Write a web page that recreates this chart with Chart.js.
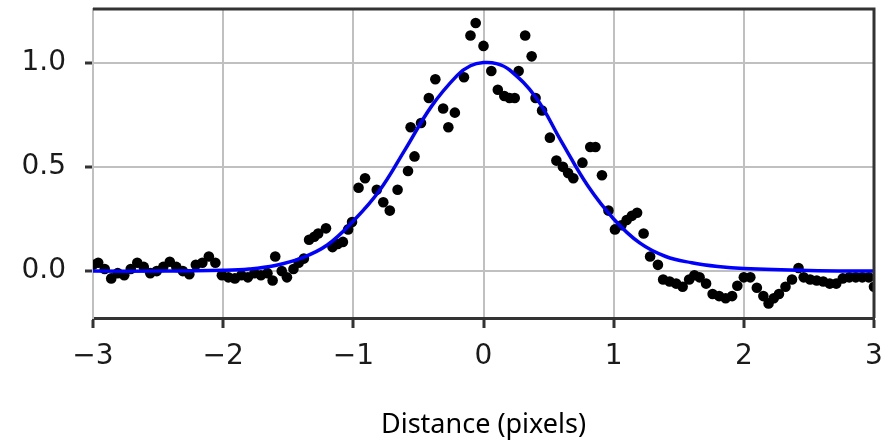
<!DOCTYPE html>
<html>
<head>
<meta charset="utf-8">
<script src="https://cdn.jsdelivr.net/npm/chart.js@4/dist/chart.umd.min.js"></script>
<style>
    html, body { margin: 0; padding: 0; background: #fff; }
    #wrap { width: 891px; height: 448px; position: relative; }
</style>
</head>
<body>
<div id="wrap"><canvas id="chart"></canvas></div>
<script>
// measured profile (black dots)
const distX = [
    -3.00, -2.96, -2.91, -2.86, -2.81, -2.76, -2.71, -2.66, -2.61, -2.56,
    -2.51, -2.46, -2.41, -2.36, -2.31, -2.26, -2.21, -2.16, -2.11, -2.06,
    -2.01, -1.96, -1.91, -1.86, -1.81, -1.76, -1.71, -1.66, -1.62, -1.60,
    -1.55, -1.51, -1.46, -1.42, -1.38, -1.34, -1.30, -1.27, -1.21, -1.16,
    -1.12, -1.08, -1.04, -1.01, -0.96, -0.91, -0.82, -0.77, -0.72, -0.66,
    -0.58, -0.53, -0.56, -0.48, -0.42, -0.37, -0.31, -0.27, -0.22, -0.15,
    -0.10, -0.06, 0.00, 0.06, 0.11, 0.16, 0.20, 0.24, 0.27, 0.32,
    0.37, 0.40, 0.45, 0.51, 0.56, 0.61, 0.65, 0.69, 0.76, 0.82,
    0.86, 0.91, 0.96, 1.01, 1.06, 1.10, 1.14, 1.18, 1.23, 1.28,
    1.34, 1.38, 1.43, 1.48, 1.53, 1.58, 1.62, 1.66, 1.71, 1.76,
    1.81, 1.86, 1.91, 1.95, 2.00, 2.05, 2.10, 2.15, 2.19, 2.23,
    2.27, 2.32, 2.37, 2.42, 2.46, 2.51, 2.56, 2.61, 2.66, 2.71,
    2.76, 2.81, 2.86, 2.91, 2.96, 3.00
];
const distY = [
    0.03, 0.04, 0.01, -0.035, -0.01, -0.02, 0.01, 0.04, 0.02, -0.01,
    0.00, 0.02, 0.045, 0.02, 0.00, -0.015, 0.03, 0.04, 0.07, 0.04,
    -0.02, -0.03, -0.035, -0.02, -0.03, -0.01, -0.02, -0.01, -0.045, 0.07,
    0.00, -0.03, 0.01, 0.04, 0.06, 0.15, 0.165, 0.18, 0.205, 0.115,
    0.13, 0.14, 0.20, 0.235, 0.40, 0.445, 0.39, 0.33, 0.29, 0.39,
    0.48, 0.55, 0.69, 0.71, 0.83, 0.92, 0.78, 0.69, 0.76, 0.93,
    1.13, 1.19, 1.08, 0.96, 0.87, 0.84, 0.83, 0.83, 0.96, 1.13,
    1.03, 0.83, 0.77, 0.64, 0.53, 0.50, 0.47, 0.445, 0.52, 0.595,
    0.595, 0.46, 0.29, 0.20, 0.22, 0.245, 0.265, 0.28, 0.18, 0.07,
    0.03, -0.04, -0.05, -0.06, -0.075, -0.04, -0.02, -0.03, -0.06, -0.11,
    -0.12, -0.13, -0.12, -0.07, -0.03, -0.03, -0.08, -0.12, -0.155, -0.13,
    -0.11, -0.075, -0.04, 0.015, -0.03, -0.04, -0.045, -0.05, -0.06, -0.06,
    -0.035, -0.03, -0.03, -0.03, -0.03, -0.075
];

// fitted curve (blue line)
const fitX = [
    -3.0, -2.5, -2.0, -1.8, -1.6, -1.4, -1.2, -1.0, -0.8, -0.6,
    -0.4, -0.2, -0.1, 0.0, 0.1, 0.2, 0.4, 0.6, 0.8, 1.0,
    1.2, 1.4, 1.6, 1.8, 2.0, 2.5, 3.0
];
const fitY = [
    0.0, 0.0, 0.004, 0.01, 0.027, 0.062, 0.125, 0.24, 0.385, 0.585,
    0.79, 0.94, 0.985, 1.0, 0.995, 0.965, 0.835, 0.62, 0.41, 0.25,
    0.135, 0.07, 0.04, 0.022, 0.012, 0.003, 0.0
];

const xTicks = [-3, -2, -1, 0, 1, 2, 3];
const yTicks = [0.0, 0.5, 1.0];
const xTitle = 'Distance (pixels)';

const tickFont = { family: '"DejaVu Sans"', size: 28 };

// matplotlib-like dark spines on top and right
const spinesPlugin = {
    id: 'spines',
    afterDatasetsDraw(chart) {
        const { ctx, chartArea: a } = chart;
        ctx.save();
        ctx.strokeStyle = '#333';
        ctx.lineWidth = 3;
        ctx.beginPath();
        ctx.moveTo(a.left, a.top);
        ctx.lineTo(a.right, a.top);
        ctx.lineTo(a.right, a.bottom);
        ctx.stroke();
        ctx.restore();
    }
};

new Chart(document.getElementById('chart'), {
    type: 'scatter',
    data: {
        datasets: [
            {
                label: 'fit',
                data: fitX.map((x, i) => ({ x: x, y: fitY[i] })),
                showLine: true,
                borderColor: '#0000ff',
                borderWidth: 3.5,
                pointRadius: 0,
                tension: 0.4,
                order: 0
            },
            {
                label: 'data',
                data: distX.map((x, i) => ({ x: x, y: distY[i] })),
                backgroundColor: '#000',
                borderColor: '#000',
                pointRadius: 5.3,
                borderWidth: 0,
                order: 1
            }
        ]
    },
    options: {
        responsive: true,
        maintainAspectRatio: false,
        animation: false,
        layout: { padding: { left: 0, right: 17, top: 9, bottom: 0 } },
        plugins: {
            legend: { display: false },
            tooltip: { enabled: false }
        },
        scales: {
            x: {
                type: 'linear',
                min: -3,
                max: 3,
                afterBuildTicks: scale => { scale.ticks = xTicks.map(v => ({ value: v })); },
                afterFit: scale => {
                    scale.height = 130;
                    scale.paddingLeft = 0;
                    scale.paddingRight = 0;
                },
                grid: {
                    color: '#c0c0c0',
                    lineWidth: 2,
                    tickColor: '#333',
                    tickWidth: 3,
                    tickLength: 10
                },
                border: { display: true, color: '#333', width: 3 },
                ticks: {
                    font: tickFont,
                    color: '#1a1a1a',
                    padding: 12,
                    maxRotation: 0,
                    callback: v => (v < 0 ? '\u2212' + Math.abs(v) : String(v))
                },
                title: {
                    display: true,
                    text: xTitle,
                    color: '#000',
                    font: { family: '"Noto Sans"', size: 27 },
                    padding: { top: 0, bottom: 6 }
                }
            },
            y: {
                type: 'linear',
                min: -0.225,
                max: 1.257,
                afterBuildTicks: scale => { scale.ticks = yTicks.map(v => ({ value: v })); },
                afterFit: scale => {
                    scale.width = 93;
                    scale.paddingTop = 0;
                    scale.paddingBottom = 0;
                },
                grid: {
                    color: '#c0c0c0',
                    lineWidth: 2,
                    tickColor: '#333',
                    tickWidth: 3,
                    tickLength: 8
                },
                border: { display: true, color: '#c0c0c0', width: 2 },
                ticks: {
                    font: tickFont,
                    color: '#1a1a1a',
                    padding: 19,
                    callback: v => v.toFixed(1)
                }
            }
        }
    },
    plugins: [spinesPlugin]
});
</script>
</body>
</html>
